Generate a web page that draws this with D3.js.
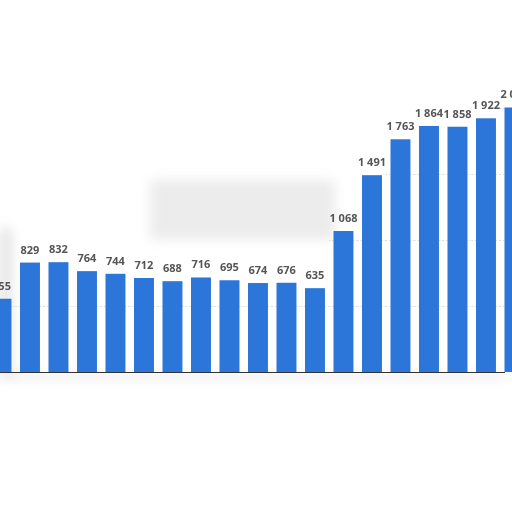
<!DOCTYPE html>
<html>
<head>
<meta charset="utf-8">
<script src="https://cdn.jsdelivr.net/npm/d3@7"></script>
<style>
  html, body { margin: 0; padding: 0; background: #fff; }
  svg { display: block; }
</style>
</head>
<body>
<div id="chart"></div>
<script>
// values, left to right (first and last bars are cut by the frame)
const categories = ["b1", "b2", "b3", "b4", "b5", "b6", "b7", "b8", "b9", "b10",
    "b11", "b12", "b13", "b14", "b15", "b16", "b17", "b18", "b19"];
const values = [555, 829, 832, 764, 744, 712, 688, 716, 695, 674,
    676, 635, 1068, 1491, 1763, 1864, 1858, 1922, 2004];
const gridValues = [500, 1000, 1500, 2000];

const width = 512;
const height = 512;
const baseline = 372;
const step = 28.5;

const fmt = (v) => d3.format(",")(v).replace(/,/g, " ");

const svg = d3.select("#chart")
    .append("svg")
    .attr("width", width)
    .attr("height", height);

// soft grey smudges that sit behind the plot in the picture
const defs = svg.append("defs");
defs.append("filter")
    .attr("id", "blur")
    .attr("x", "-50%").attr("y", "-50%")
    .attr("width", "200%").attr("height", "200%")
    .append("feGaussianBlur")
    .attr("stdDeviation", 6);

const smudge = svg.append("g").attr("filter", "url(#blur)").attr("fill", "#d9d9d9");
smudge.append("rect").attr("x", 150).attr("y", 180).attr("width", 185).attr("height", 60).attr("opacity", 0.5);
smudge.append("rect").attr("x", 0).attr("y", 228).attr("width", 12).attr("height", 146).attr("opacity", 0.7);
smudge.append("rect").attr("x", 0).attr("y", 374).attr("width", 505).attr("height", 5).attr("opacity", 0.6);

// scales: band scale is wider than the frame so the edge bars get clipped
const paddingOuter = 0.15;
const r0 = -8.5 - paddingOuter * step;
const x = d3.scaleBand()
    .domain(categories)
    .range([r0, r0 + step * categories.length])
    .paddingInner(0.3)
    .paddingOuter(paddingOuter);

const y = d3.scaleLinear()
    .domain([0, 2000])
    .range([baseline, 108]);

// dotted gridlines, only showing where the bars reach above them
const gap = x.step() - x.bandwidth();
const gridSegs = [];
gridValues.forEach((g) => {
    values.forEach((v, i) => {
        if (v > g) gridSegs.push({ g: g, x0: x(categories[i]) - gap / 2, x1: x(categories[i]) + x.bandwidth() + gap / 2 });
    });
});

svg.append("g")
    .selectAll("line")
    .data(gridSegs)
    .enter()
    .append("line")
    .attr("x1", (d) => d.x0)
    .attr("x2", (d) => d.x1)
    .attr("y1", (d) => y(d.g) + 0.5)
    .attr("y2", (d) => y(d.g) + 0.5)
    .attr("stroke", "#d4d4d4")
    .attr("stroke-width", 1)
    .attr("stroke-dasharray", "1,2");

// bars
svg.append("g")
    .selectAll("rect")
    .data(values)
    .enter()
    .append("rect")
    .attr("x", (d, i) => x(categories[i]))
    .attr("width", x.bandwidth())
    .attr("y", (d) => y(d))
    .attr("height", (d) => baseline - y(d))
    .attr("fill", "#2b76d8");

// value labels
svg.append("g")
    .selectAll("text")
    .data(values)
    .enter()
    .append("text")
    .attr("x", (d, i) => x(categories[i]) + x.bandwidth() / 2)
    .attr("y", (d) => y(d) - 9)
    .attr("text-anchor", "middle")
    .style("font-family", "'Open Sans', sans-serif")
    .style("font-size", "11px")
    .style("font-weight", "bold")
    .style("fill", "#555")
    .text((d) => fmt(d));

// x axis line
svg.append("g")
    .attr("transform", `translate(0,${baseline})`)
    .call(d3.axisBottom(x).tickSize(0).tickFormat(""))
    .call((g) => g.select(".domain")
        .attr("d", `M0,0.5H505`)
        .attr("stroke", "#333"));
</script>
</body>
</html>
